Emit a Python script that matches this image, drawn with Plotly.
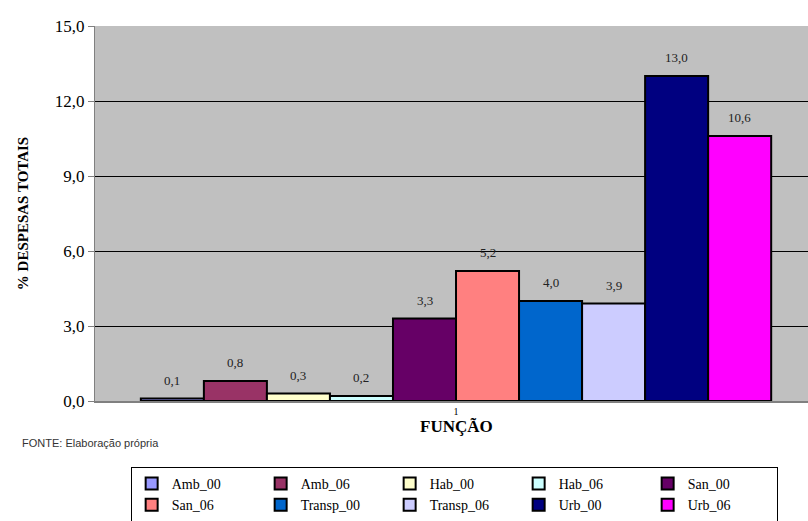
import plotly.graph_objects as go

# Series names, values (% of total expenditure) and fill colours
series = ["Amb_00", "Amb_06", "Hab_00", "Hab_06", "San_00",
          "San_06", "Transp_00", "Transp_06", "Urb_00", "Urb_06"]
values = [0.1, 0.8, 0.3, 0.2, 3.3, 5.2, 4.0, 3.9, 13.0, 10.6]
colors = ["#9999FF", "#993366", "#FFFFCC", "#CCFFFF", "#660066",
          "#FF8080", "#0066CC", "#CCCCFF", "#000080", "#FF00FF"]
category = ["1"]
y_ticks = [0, 3, 6, 9, 12, 15]

SERIF = "Liberation Serif"
SANS = "Liberation Sans"

fig = go.Figure()
for name, val, col in zip(series, values, colors):
    fig.add_trace(go.Bar(
        name=name, x=category, y=[val], offsetgroup=name,
        marker=dict(color=col, line=dict(color="black", width=2)),
        texttemplate="%{y:.1f}", textposition="none",
    ))

fig.update_layout(
    width=808, height=521,
    margin=dict(l=95, r=0, t=26, b=120, autoexpand=False),
    paper_bgcolor="white", plot_bgcolor="#C0C0C0",
    barmode="group", bargap=0.127, bargroupgap=0,
    separators=",.",
    showlegend=True,
    legend=dict(
        orientation="h", x=0.05, xanchor="left", y=-0.176, yanchor="top",
        entrywidth=84, entrywidthmode="pixels",
        bgcolor="white", bordercolor="black", borderwidth=1,
        font=dict(family=SERIF, size=14, color="black"),
        traceorder="normal", tracegroupgap=0,
    ),
)

fig.update_xaxes(
    type="category", range=[-0.5, 0.4875],
    showgrid=False, showline=True, linecolor="#808080", linewidth=2,
    ticks="", ticklabelstandoff=0,
    tickfont=dict(family=SERIF, size=10, color="black"),
)
fig.update_yaxes(
    range=[0, 15], tickvals=y_ticks, tickformat=".1f",
    showgrid=True, gridcolor="black", gridwidth=1,
    showline=True, linecolor="#808080", linewidth=1,
    ticks="outside", ticklen=6, tickcolor="#808080",
    tickfont=dict(family=SERIF, size=17, color="black"),
    zeroline=False,
    title=dict(text="<b>% DESPESAS TOTAIS</b>", standoff=22,
               font=dict(family=SERIF, size=15, color="black")),
)

# value labels floated a little above each bar
n = len(series)
group_width = 1 - 0.127
bar_w = group_width / n
for i, val in enumerate(values):
    xc = -group_width / 2 + bar_w * (i + 0.5)
    fig.add_annotation(
        x=xc, y=val, xref="x", yref="y", text=f"{val:.1f}".replace(".", ","),
        showarrow=False, yanchor="bottom", yshift=9,
        font=dict(family=SERIF, size=13, color="#222222"),
    )

# x-axis title, set close under the tick label
fig.add_annotation(
    text="<b>FUNÇÃO</b>", xref="x", yref="paper",
    x=0, y=-0.067, xanchor="center", yanchor="middle", showarrow=False,
    font=dict(family=SERIF, size=17, color="black"),
)

fig.add_annotation(
    text="FONTE: Elaboração própria", xref="paper", yref="paper",
    x=-0.105, y=-0.112, xanchor="left", yanchor="middle", showarrow=False,
    font=dict(family=SANS, size=11, color="#333333"),
)

fig.write_html("out.html")
